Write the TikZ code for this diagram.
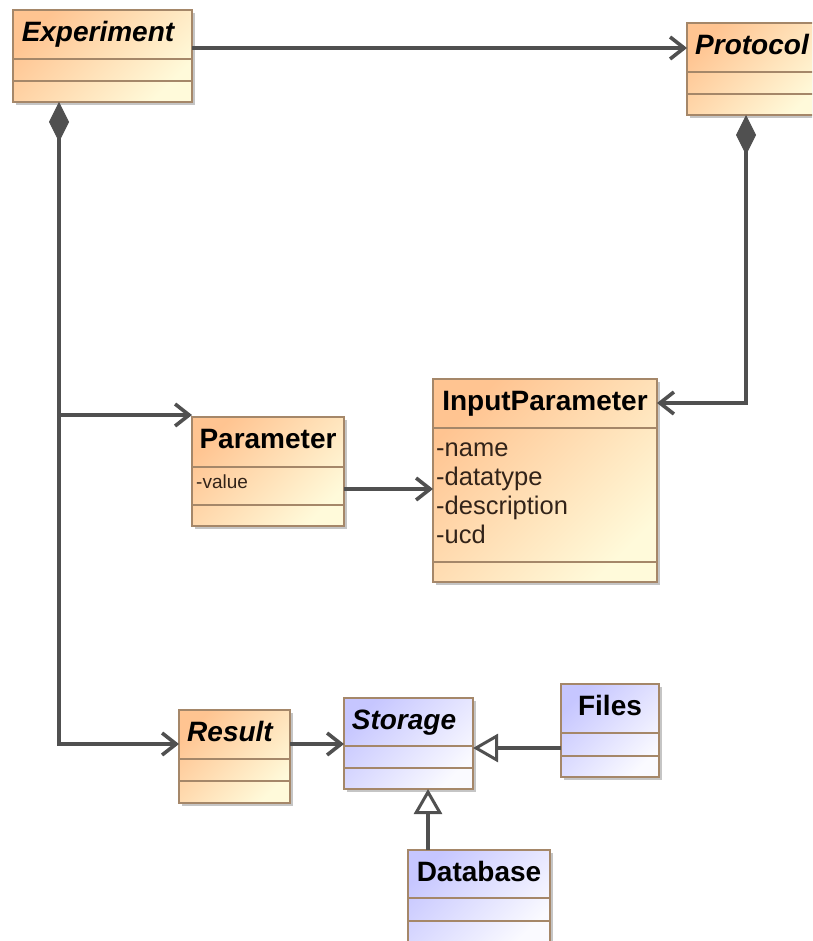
\documentclass[tikz,border=0pt]{standalone}
\usepackage{fontspec}
\setmainfont{Liberation Sans}
\usetikzlibrary{arrows.meta,shadows}

\definecolor{orA}{RGB}{255,196,145}
\definecolor{orB}{RGB}{255,250,218}
\definecolor{blA}{RGB}{198,198,255}
\definecolor{blB}{RGB}{250,250,255}
\definecolor{edge}{RGB}{165,135,105}
\definecolor{wirecol}{RGB}{80,80,80}
\definecolor{attrcol}{RGB}{50,35,25}

\tikzset{
  x=1pt, y=-1pt,
  umlbox/.style={draw=edge, line width=1.4pt, inner sep=0pt, outer sep=0pt,
    drop shadow={shadow xshift=3pt, shadow yshift=-3pt, fill=black!45, opacity=0.5}},
  orangebox/.style={umlbox, top color=orA, bottom color=orB, shading angle=45},
  bluebox/.style={umlbox, top color=blA, bottom color=blB, shading angle=45},
  divider/.style={draw=edge, line width=1.4pt},
  title/.style={font=\fontsize{28}{30}\selectfont\bfseries, anchor=base, inner sep=0pt},
  abstitle/.style={title, font=\fontsize{28}{30}\selectfont\bfseries\itshape},
  attr/.style={font=\fontsize{25.5}{29}\selectfont, anchor=base west, inner sep=0pt, text=attrcol},
  smallattr/.style={attr, font=\fontsize{19}{22}\selectfont},
  wire/.style={draw=wirecol, line width=3.6pt},
  assoc/.style={wire, -{Straight Barb[length=14pt,width=22pt]}},
  compo/.style={wire, {Diamond[length=40pt,width=20pt,line width=1pt]}-{Straight Barb[length=14pt,width=22pt]}},
  gen/.style={wire, -{Triangle[open,length=25pt,width=28pt,line width=3pt]}},
}

% class box: name, style, left, top, right, bottom, first divider, second divider
\newcommand{\umlclass}[8]{%
  \node[#2, minimum width={(#5-#3)*1pt}, minimum height={(#6-#4)*1pt}] (#1) at ({(#3+#5)/2},{(#4+#6)/2}) {};
  \draw[divider] (#3,#7) -- (#5,#7);
  \draw[divider] (#3,#8) -- (#5,#8);
}

\begin{document}
\begin{tikzpicture}
  \clip (0,0) rectangle (812,941);
  \fill[white] (0,0) rectangle (812,941);

  % classes
  \umlclass{Experiment}{orangebox}{13}{10}{192}{102}{59}{81}
  \umlclass{Protocol}{orangebox}{687}{23}{824}{115}{72}{94}
  \umlclass{Parameter}{orangebox}{192}{417}{344}{526}{467}{505}
  \umlclass{InputParameter}{orangebox}{433}{379}{657}{582}{428}{562}
  \umlclass{Result}{orangebox}{179}{710}{290}{803}{759}{781}
  \umlclass{Storage}{bluebox}{344}{698}{473}{789}{746}{768}
  \umlclass{Files}{bluebox}{561}{684}{659}{777}{733}{756}
  \umlclass{Database}{bluebox}{408}{850}{550}{943}{898}{921}

  % titles
  \node[abstitle] (tExperiment) at (98,42) {Experiment};
  \node[abstitle] (tProtocol) at (752,55) {Protocol};
  \node[title] (tParameter) at (268,448) {Parameter};
  \node[title] (tInputParameter) at (545,410) {InputParameter};
  \node[abstitle] (tResult) at (230,741) {Result};
  \node[abstitle] (tStorage) at (404,729) {Storage};
  \node[title] (tFiles) at (610,715) {Files};
  \node[title] (tDatabase) at (479,881) {Database};

  % attributes
  \node[smallattr] (aValue) at (196,488) {-value};
  \node[attr] (aName) at (436,456) {-name};
  \node[attr] (aDatatype) at (436,485) {-datatype};
  \node[attr] (aDescription) at (436,514) {-description};
  \node[attr] (aUcd) at (436,543) {-ucd};

  % routing helpers
  \coordinate (trunkE) at (59,0);
  \coordinate (trunkP) at (746,0);
  \coordinate (dbx) at (428,0);
  \coordinate (yTop) at (0,48);
  \coordinate (yPar) at (0,415);
  \coordinate (yRes) at (0,744);
  \coordinate (yIn) at (0,403);
  \coordinate (yVal) at (0,489);
  \coordinate (yGen) at (0,748);

  % connectors
  \draw[assoc] (Experiment.east |- yTop) -- (Protocol.west |- yTop);
  \draw[compo] (Experiment.south -| trunkE) -- (trunkE |- yRes) -- (Result.west |- yRes);
  \draw[assoc] (trunkE |- yPar) -- (Parameter.west |- yPar);
  \draw[compo] (Protocol.south -| trunkP) -- (trunkP |- yIn) -- (InputParameter.east |- yIn);
  \draw[assoc] (Parameter.east |- yVal) -- (InputParameter.west |- yVal);
  \draw[assoc] (Result.east |- yRes) -- (Storage.west |- yRes);
  \draw[gen] (Files.west |- yGen) -- (Storage.east |- yGen);
  \draw[gen] (Database.north -| dbx) -- (Storage.south -| dbx);
\end{tikzpicture}
\end{document}
